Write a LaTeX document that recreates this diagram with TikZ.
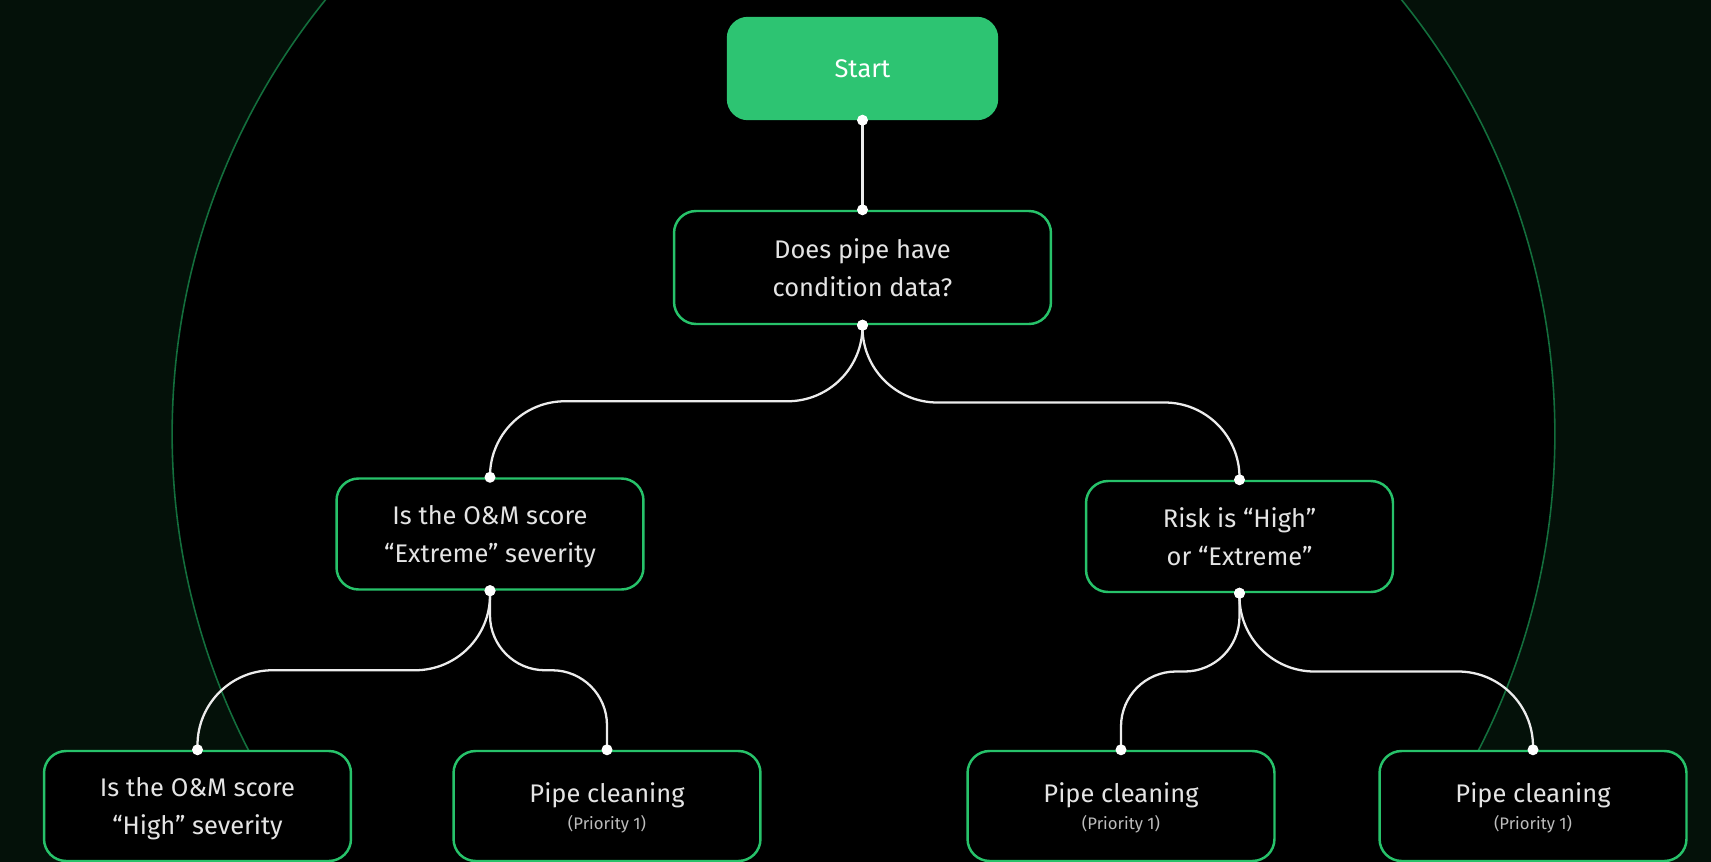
\documentclass[tikz,border=0pt]{standalone}
\usepackage{fontspec}
\setmainfont{Fira Sans}
\usetikzlibrary{calc}

\definecolor{outerbg}{HTML}{041109}
\definecolor{ringgreen}{HTML}{136E3C}
\definecolor{boxgreen}{HTML}{27C26A}
\definecolor{startgreen}{HTML}{2DC472}
\definecolor{linkgray}{HTML}{ECECEC}
\definecolor{textgray}{HTML}{E4E4E4}
\definecolor{priogray}{HTML}{BDBDBD}

\newcommand{\priotext}[1]{{\fontsize{9.5}{12}\selectfont\color{priogray}#1}}

\begin{document}
\begin{tikzpicture}[x=0.02cm, y=-0.02cm,
    box/.style={draw=boxgreen, fill=black, line width=1.4pt, rounded corners=0.44cm,
        minimum width=6.14cm, minimum height=2.22cm, align=center, text=textgray,
        text depth=0pt, font=\fontsize{14.5}{21.5}\selectfont},
    startbox/.style={box, draw=startgreen, fill=startgreen, text=white,
        minimum width=5.38cm, minimum height=2.02cm, rounded corners=0.4cm},
    link/.style={draw=linkgray, line width=1.3pt}]

        % page size and the dark background
        \useasboundingbox (0,0) rectangle (1711,862);
        \clip (0,0) rectangle (1711,862);
        \fill[outerbg] (0,0) rectangle (1711,862);
        % the big black disc with its thin green rim
        \filldraw[fill=black, draw=ringgreen, line width=0.9pt] (863.5,434) circle[radius=13.83cm];

        % the nodes of the tree
        \node[startbox] (start) at (862.5,68.5) {Start};
        \node[box, minimum width=7.54cm, minimum height=2.26cm] (cond) at (862.5,267.5) {Does pipe have\\condition data?};
        \node[box] (om) at (490,534) {Is the O\&M score\\“Extreme” severity};
        \node[box] (risk) at (1239.5,536.5) {Risk is “High”\\or “Extreme”};
        \node[box, minimum height=2.2cm] (omhigh) at (197.5,806) {Is the O\&M score\\“High” severity};
        \node[box, minimum height=2.2cm] (pc1) at (607,806) {Pipe cleaning\\[-6pt]\priotext{(Priority 1)}};
        \node[box, minimum height=2.2cm] (pc2) at (1121,806) {Pipe cleaning\\[-6pt]\priotext{(Priority 1)}};
        \node[box, minimum height=2.2cm] (pc3) at (1533,806) {Pipe cleaning\\[-6pt]\priotext{(Priority 1)}};

        % straight link from the start
        \draw[link] (start.south) -- (cond.north);
        \fill[white] (start.south) circle[radius=0.11cm] (cond.north) circle[radius=0.11cm];

        % curved links: down, across, down
        \foreach \a/\b/\r in {cond/om/1.5, cond/risk/1.5, om/omhigh/1.5, om/pc1/1.1, risk/pc2/1.1, risk/pc3/1.5}{
            \coordinate (m) at ($(\a.south)!.5!(\b.north)$);
            \draw[link, rounded corners=\r cm] (\a.south) -- (\a.south |- m) -| (\b.north);
            \fill[white] (\a.south) circle[radius=0.11cm] (\b.north) circle[radius=0.11cm];
        }
\end{tikzpicture}
\end{document}
